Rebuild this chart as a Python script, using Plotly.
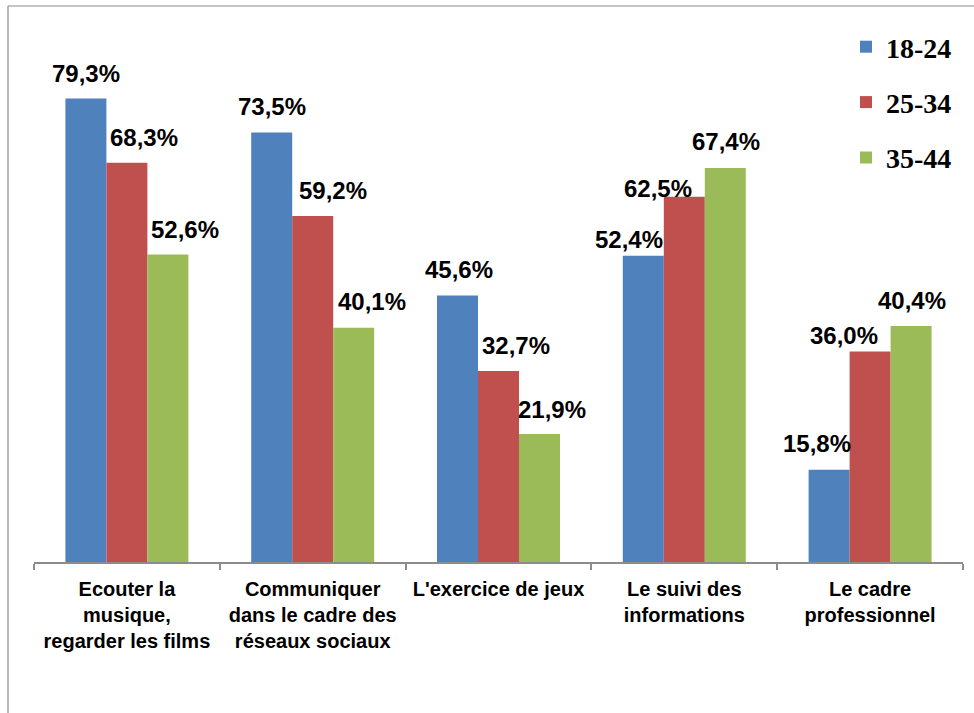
import plotly.graph_objects as go

categories = [
    "Ecouter la<br>musique,<br>regarder les films",
    "Communiquer<br>dans le cadre des<br>réseaux sociaux",
    "L'exercice de jeux",
    "Le suivi des<br>informations",
    "Le cadre<br>professionnel",
]
series_names = ["18-24", "25-34", "35-44"]
values_18_24 = [79.3, 73.5, 45.6, 52.4, 15.8]
values_25_34 = [68.3, 59.2, 32.7, 62.5, 36.0]
values_35_44 = [52.6, 40.1, 21.9, 67.4, 40.4]
series_values = [values_18_24, values_25_34, values_35_44]
colors = ["#4F81BD", "#C0504D", "#9BBB59"]

# label placement tweaks (pixels): (dx, dy above bar top) per category, per series
label_offsets = [
    [(0, 25), (17, 25), (17, 25)],
    [(0, 26), (20, 26), (18, 26)],
    [(1, 26), (17, 25), (12, 25)],
    [(-14, 16), (-26, 8), (1, 27)],
    [(-12, 26), (-26, 16), (1, 25)],
]

W, H = 974, 713
ML, MR, MT, MB = 34, 11, 36, 151
bargap = 0.338
bar_w = (1 - bargap) / 3

fig = go.Figure()
for name, vals, col in zip(series_names, series_values, colors):
    fig.add_trace(go.Bar(
        name=name, x=categories, y=vals, marker_color=col,
        marker_line_width=0, legendgroup=name,
    ))

annotations = []
for i in range(len(categories)):
    for j, vals in enumerate(series_values):
        dx, dy = label_offsets[i][j]
        annotations.append(dict(
            x=i + (j - 1) * bar_w, y=vals[i], xref="x", yref="y",
            text=f"{vals[i]:.1f}%".replace(".", ","),
            showarrow=False, xanchor="center", yanchor="middle",
            xshift=dx, yshift=dy,
            font=dict(family="Liberation Sans, Arial", size=24, color="black", weight="bold"),
        ))

shapes = [
    dict(type="line", xref="paper", yref="paper",
         x0=(8 - ML) / (W - ML - MR), x1=(990 - ML) / (W - ML - MR),
         y0=(H - MB - 6) / (H - MT - MB), y1=(H - MB - 6) / (H - MT - MB),
         line=dict(color="#8a8a8a", width=1.2)),
    dict(type="line", xref="paper", yref="paper",
         x0=(8 - ML) / (W - ML - MR), x1=(8 - ML) / (W - ML - MR),
         y0=(H - MB - 6) / (H - MT - MB), y1=-0.4,
         line=dict(color="#8a8a8a", width=1.2)),
]

fig.update_layout(
    width=W, height=H,
    margin=dict(l=ML, r=MR, t=MT, b=MB),
    paper_bgcolor="white", plot_bgcolor="white",
    barmode="group", bargap=bargap, bargroupgap=0,
    annotations=annotations, shapes=shapes,
    showlegend=True,
    legend=dict(
        x=(846 - ML) / (W - ML - MR), xanchor="left",
        y=(H - MB - 22) / (H - MT - MB), yanchor="top",
        traceorder="grouped", tracegroupgap=16,
        font=dict(family="Liberation Serif, Times New Roman", size=28, color="black", weight="bold"),
        bgcolor="rgba(0,0,0,0)",
    ),
    xaxis=dict(
        showline=True, linecolor="#8c8c8c", linewidth=1.5,
        ticks="outside", tickson="boundaries", ticklen=6, tickcolor="#8c8c8c", tickwidth=1.5,
        tickfont=dict(family="Liberation Sans, Arial", size=20, color="black", weight="bold"),
        ticklabelstandoff=8,
        showgrid=False,
    ),
    yaxis=dict(range=[0, 90], visible=False, showgrid=False, zeroline=False),
)

fig.write_html(
    "out.html",
    config={"displayModeBar": False},
    post_script="document.body.style.margin='0';document.body.style.overflow='hidden';",
)
